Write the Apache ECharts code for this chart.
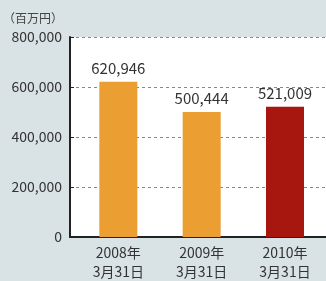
<!DOCTYPE html>
<html>
<head>
<meta charset="utf-8">
<script src="https://cdn.jsdelivr.net/npm/echarts@6/dist/echarts.min.js"></script>
<style>
    html, body { margin: 0; padding: 0; background: #d9e2e4; }
    #chart_con { width: 326px; height: 281px; }
</style>
</head>
<body>
<div id="chart_con"></div>
<script>
const categories = ['2008年\n3月31日', '2009年\n3月31日', '2010年\n3月31日'];
const values = [620946, 500444, 521009];
const barColors = ['#eb9e32', '#eb9e32', '#a8170f'];
const yTicks = [0, 200000, 400000, 600000, 800000];

const chart = echarts.init(document.getElementById('chart_con'));
const font = '"Noto Sans CJK JP", "Noto Sans", sans-serif';

const option = {
    backgroundColor: '#d9e2e4',
    textStyle: { fontFamily: font },
    title: {
        text: '（百万円）',
        left: -2,
        top: 7,
        textStyle: { fontSize: 12, fontWeight: 'normal', color: '#444', fontFamily: font }
    },
    grid: {
        left: 70,
        right: 0,
        top: 37,
        bottom: 44,
        show: true,
        backgroundColor: '#fff',
        borderWidth: 0
    },
    xAxis: {
        type: 'value',
        min: -0.58,
        max: 2.492,
        splitLine: { show: false },
        axisTick: { show: false },
        axisLine: { show: true, onZero: false, lineStyle: { color: '#222', width: 2 } },
        axisLabel: {
            customValues: [0, 1, 2],
            formatter: function (v) { return categories[Math.round(v)]; },
            fontSize: 14,
            lineHeight: 19,
            color: '#333',
            margin: 6,
            fontFamily: font
        }
    },
    yAxis: {
        type: 'value',
        min: yTicks[0],
        max: yTicks[yTicks.length - 1],
        interval: 200000,
        axisLine: { show: true, onZero: false, lineStyle: { color: '#222', width: 2 } },
        axisTick: { show: true, inside: true, length: 4, lineStyle: { color: '#222', width: 1 } },
        splitLine: { show: true, lineStyle: { color: '#888', type: [3, 3], width: 1 } },
        axisLabel: {
            fontSize: 14,
            color: '#333',
            margin: 8,
            fontFamily: font,
            formatter: function (v) { return v.toLocaleString('en-US'); }
        }
    },
    series: [
        {
            type: 'bar',
            barWidth: 38,
            data: values.map((v, i) => ({
                value: [i, v],
                itemStyle: { color: barColors[i] }
            })),
            label: {
                show: true,
                position: 'top',
                distance: 6,
                fontSize: 15,
                color: '#333',
                fontFamily: font,
                formatter: function (p) { return p.value[1].toLocaleString('en-US'); }
            }
        }
    ]
};

chart.setOption(option);
</script>
</body>
</html>
